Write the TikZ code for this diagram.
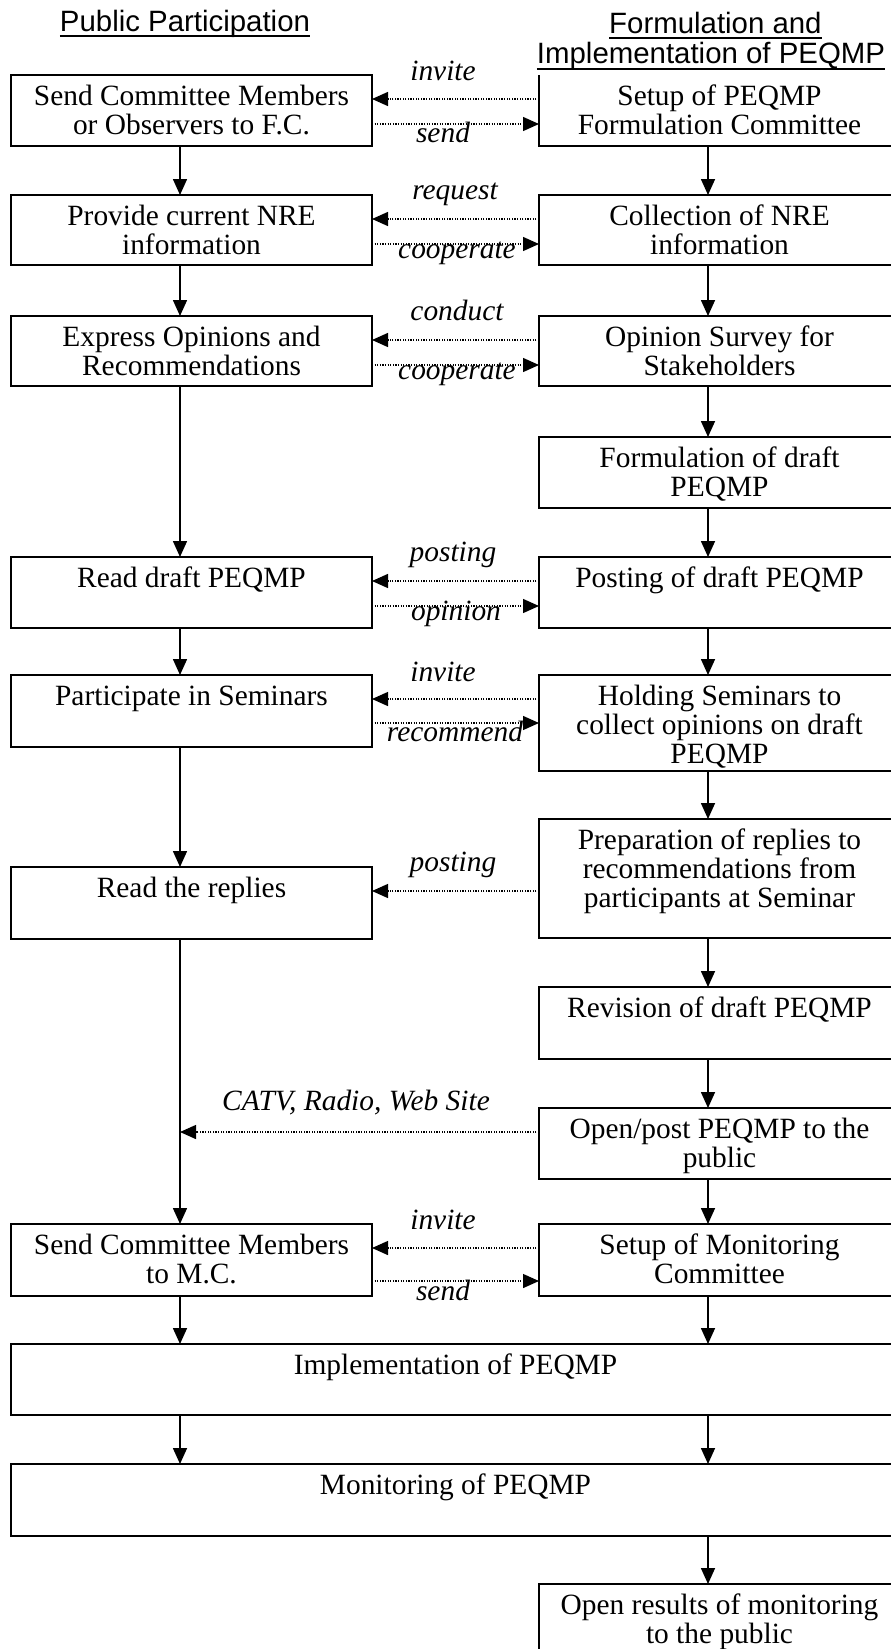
\documentclass[tikz,border=0pt]{standalone}
\usepackage{fontspec}
\setmainfont{Liberation Serif}
\newfontfamily\hdrfont{Liberation Sans}
\usetikzlibrary{arrows.meta}
\newcommand\mybox[6]{%
  \node[boxshape, minimum width={#4-#2}, minimum height={#5-#3}] (#1) at ({(#2+#4)/2},{(#3+#5)/2}) {};
  \node[boxtext] (#1t) at ({(#2+#4)/2},{#3+10}) {#6};
}
\newcommand\myopenbox[6]{%
  \node[boxshape, draw=none, minimum width={#4-#2}, minimum height={#5-#3}] (#1) at ({(#2+#4)/2},{(#3+#5)/2}) {};
  \draw[boxline] (#1.north west) -- (#1.south west) -- (#1.south east) -- (#1.north east);
  \node[boxtext] (#1t) at ({(#2+#4)/2},{#3+10}) {#6};
}
\tikzset{
  boxline/.style={line width=1.8pt},
  boxshape/.style={draw, rectangle, line width=1.8pt, inner sep=0pt, outer sep=0pt},
  boxtext/.style={anchor=north, inner sep=0pt, align=center,
    font=\fontsize{29.4}{29}\selectfont, execute at begin node=\strut},
  flow/.style={line width=1.6pt, -{Triangle[length=16pt,width=14pt]}},
  dots/.style={line width=1.4pt, dash pattern=on 1.2pt off 1.4pt, -{Triangle[length=16pt,width=14pt]}},
  lab/.style={anchor=base, inner sep=0pt, font=\itshape\fontsize{29.4}{30}\selectfont},
  hdr/.style={inner sep=0pt, font=\hdrfont\fontsize{29.4}{30}\selectfont},
  uline/.style={line width=2.2pt}
}
\begin{document}
\begin{tikzpicture}[x=1pt,y=-1pt]
\useasboundingbox (0,0) rectangle (891,1649);
% headers
\node[hdr, anchor=base] (h1) at (185,31) {Public Participation};
\node[hdr, anchor=base west] (h2) at (609,33) {Formulation and};
\node[hdr, anchor=base] (h3) at (711,63) {Implementation of PEQMP};
\draw[uline] ([yshift=-5pt]h1.base west) -- ([yshift=-5pt]h1.base east);
\draw[uline] ([yshift=-5pt]h2.base west) -- ([yshift=-5pt]h2.base east);
\draw[uline] ([yshift=-6pt]h3.base west) -- ([yshift=-6pt]h3.base east);
% column x positions
\coordinate (xl) at (180,0);
\coordinate (xr) at (708,0);
% left boxes
\mybox{La}{11}{75}{372}{146}{Send Committee Members\\or Observers to F.C.}
\mybox{Lb}{11}{195}{372}{265}{Provide current NRE\\information}
\mybox{Lc}{11}{316}{372}{386}{Express Opinions and\\Recommendations}
\mybox{Ld}{11}{557}{372}{628}{Read draft PEQMP}
\mybox{Le}{11}{675}{372}{747}{Participate in Seminars}
\mybox{Lf}{11}{867}{372}{939}{Read the replies}
\mybox{Lg}{11}{1224}{372}{1296}{Send Committee Members\\to M.C.}
% right boxes
\myopenbox{Ra}{539}{75}{900}{146}{Setup of PEQMP\\Formulation Committee}
\mybox{Rb}{539}{195}{900}{265}{Collection of NRE\\information}
\mybox{Rc}{539}{316}{900}{386}{Opinion Survey for\\Stakeholders}
\mybox{Rd}{539}{437}{900}{508}{Formulation of draft\\PEQMP}
\mybox{Re}{539}{557}{900}{628}{Posting of draft PEQMP}
\mybox{Rf}{539}{675}{900}{771}{Holding Seminars to\\collect opinions on draft\\PEQMP}
\mybox{Rg}{539}{819}{900}{938}{Preparation of replies to\\recommendations from\\participants at Seminar}
\mybox{Rh}{539}{987}{900}{1059}{Revision of draft PEQMP}
\mybox{Ri}{539}{1108}{900}{1179}{Open/post PEQMP to the\\public}
\mybox{Rj}{539}{1224}{900}{1296}{Setup of Monitoring\\Committee}
\mybox{Rk}{539}{1584}{900}{1662}{Open results of monitoring\\to the public}
% wide boxes
\mybox{Im}{11}{1344}{900}{1415}{Implementation of PEQMP}
\mybox{Mo}{11}{1464}{900}{1536}{Monitoring of PEQMP}
% left flow
\draw[flow] (xl |- La.south) -- (xl |- Lb.north);
\draw[flow] (xl |- Lb.south) -- (xl |- Lc.north);
\draw[flow] (xl |- Lc.south) -- (xl |- Ld.north);
\draw[flow] (xl |- Ld.south) -- (xl |- Le.north);
\draw[flow] (xl |- Le.south) -- (xl |- Lf.north);
\draw[flow] (xl |- Lf.south) -- (xl |- Lg.north);
\draw[flow] (xl |- Lg.south) -- (xl |- Im.north);
\draw[flow] (xl |- Im.south) -- (xl |- Mo.north);
% right flow
\draw[flow] (xr |- Ra.south) -- (xr |- Rb.north);
\draw[flow] (xr |- Rb.south) -- (xr |- Rc.north);
\draw[flow] (xr |- Rc.south) -- (xr |- Rd.north);
\draw[flow] (xr |- Rd.south) -- (xr |- Re.north);
\draw[flow] (xr |- Re.south) -- (xr |- Rf.north);
\draw[flow] (xr |- Rf.south) -- (xr |- Rg.north);
\draw[flow] (xr |- Rg.south) -- (xr |- Rh.north);
\draw[flow] (xr |- Rh.south) -- (xr |- Ri.north);
\draw[flow] (xr |- Ri.south) -- (xr |- Rj.north);
\draw[flow] (xr |- Rj.south) -- (xr |- Im.north);
\draw[flow] (xr |- Im.south) -- (xr |- Mo.north);
\draw[flow] (xr |- Mo.south) -- (xr |- Rk.north);
% dotted exchanges
\draw[dots] ([yshift=-24pt]Ra.north west) -- ([yshift=-24pt]La.north east);
\draw[dots] ([yshift=-49pt]La.north east) -- ([yshift=-49pt]Ra.north west);
\draw[dots] ([yshift=-24pt]Rb.north west) -- ([yshift=-24pt]Lb.north east);
\draw[dots] ([yshift=-49pt]Lb.north east) -- ([yshift=-49pt]Rb.north west);
\draw[dots] ([yshift=-24pt]Rc.north west) -- ([yshift=-24pt]Lc.north east);
\draw[dots] ([yshift=-49pt]Lc.north east) -- ([yshift=-49pt]Rc.north west);
\draw[dots] ([yshift=-24pt]Re.north west) -- ([yshift=-24pt]Ld.north east);
\draw[dots] ([yshift=-49pt]Ld.north east) -- ([yshift=-49pt]Re.north west);
\draw[dots] ([yshift=-24pt]Rf.north west) -- ([yshift=-24pt]Le.north east);
\draw[dots] ([yshift=-48pt]Le.north east) -- ([yshift=-48pt]Rf.north west);
\coordinate (pf) at ([yshift=-24pt]Lf.north east);
\draw[dots] (Rg.west |- pf) -- (pf);
\coordinate (ci) at ([yshift=-24pt]Ri.north west);
\coordinate (catvend) at (xl |- ci);
\draw[dots] (ci) -- (catvend);
\draw[dots] ([yshift=-24pt]Rj.north west) -- ([yshift=-24pt]Lg.north east);
\draw[dots] ([yshift=-57pt]Lg.north east) -- ([yshift=-57pt]Rj.north west);
% labels
\node[lab] (l1a) at (443,80) {invite};
\node[lab] (l1b) at (443,142) {send};
\node[lab] (l2a) at (455,199) {request};
\node[lab] (l2b) at (457,258) {cooperate};
\node[lab] (l3a) at (457,320) {conduct};
\node[lab] (l3b) at (457,379) {cooperate};
\node[lab] (l5a) at (453,561) {posting};
\node[lab] (l5b) at (456,620) {opinion};
\node[lab] (l6a) at (443,681) {invite};
\node[lab] (l6b) at (455,741) {recommend};
\node[lab] (l7a) at (453,871) {posting};
\node[lab] (l9a) at (356,1110) {CATV, Radio, Web Site};
\node[lab] (l10a) at (443,1229) {invite};
\node[lab] (l10b) at (443,1300) {send};
\end{tikzpicture}
\end{document}
